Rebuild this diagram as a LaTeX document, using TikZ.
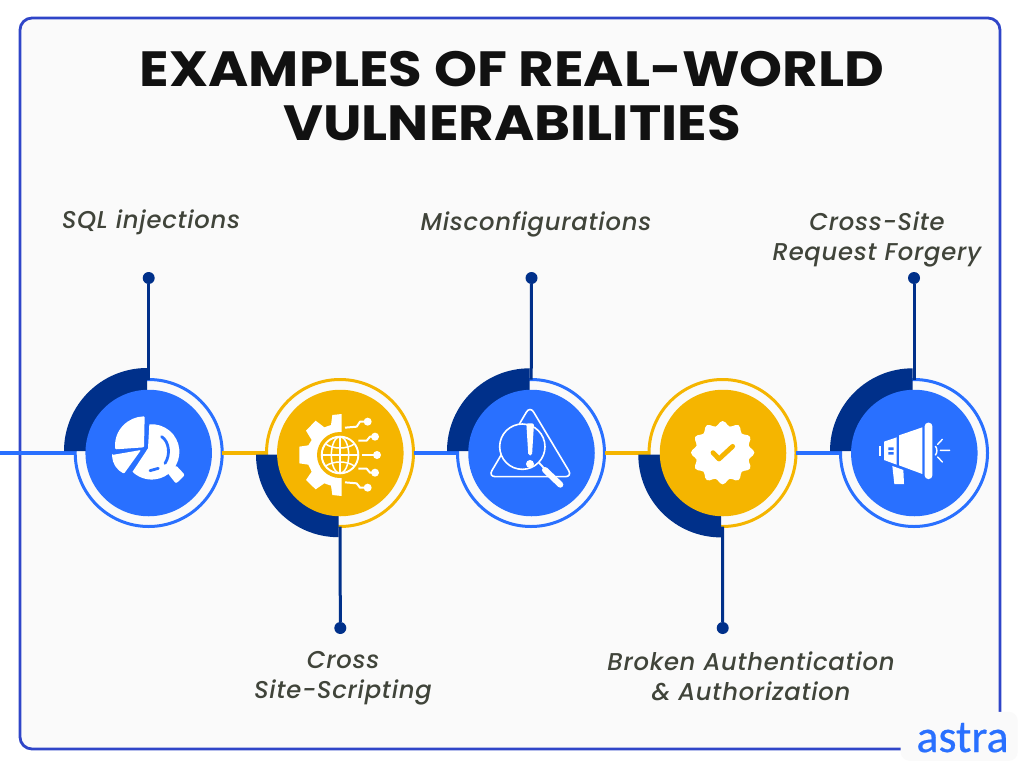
\documentclass[tikz,border=0pt]{standalone}
\usepackage{fontspec}
\setmainfont{Poppins}
\newfontfamily\titlefont[FakeStretch=1.105]{Poppins}
\newfontfamily\labelfont[LetterSpace=3,ItalicFont={Poppins Medium Italic}]{Poppins}
\newfontfamily\logofont[FakeBold=0.6]{Carlito}
\definecolor{skyb}{HTML}{2970FF}
\definecolor{navyb}{HTML}{00308A}
\definecolor{gold}{HTML}{F5B500}
\definecolor{paper}{HTML}{FAFAFA}
\definecolor{framec}{HTML}{2F45C8}
\definecolor{labelc}{HTML}{40443A}
\definecolor{titlec}{HTML}{111111}
\tikzset{
  ringb/.style={circle,draw=skyb,line width=3pt,fill=paper,minimum size=147pt,inner sep=0pt,outer sep=0pt},
  ringy/.style={circle,draw=gold,line width=3pt,fill=paper,minimum size=147pt,inner sep=0pt,outer sep=0pt},
  discb/.style={circle,fill=skyb,minimum size=126.5pt,inner sep=0pt},
  discy/.style={circle,fill=gold,minimum size=126.5pt,inner sep=0pt},
  pin/.style={circle,fill=navyb,minimum size=12pt,inner sep=0pt},
  linkb/.style={draw=skyb,line width=3.2pt},
  linky/.style={draw=gold,line width=3.2pt},
  linkn/.style={draw=navyb,line width=3pt},
  heading/.style={font=\titlefont\bfseries\fontsize{49.5}{60}\selectfont,text=titlec,anchor=base},
  caption/.style={font=\labelfont\itshape\fontsize{24.3}{30}\selectfont,text=labelc,align=center},
  iconline/.style={draw=white,line width=1.4pt,line cap=round,line join=round},
}
\begin{document}
\begin{tikzpicture}[x=1pt,y=-1pt]
\useasboundingbox (0,0) rectangle (1024,768);
\fill[white] (0,0) rectangle (1024,768);
\draw[framec,line width=2.8pt,fill=paper,rounded corners=12pt] (20,18) rectangle (1000,749);
\node[draw=none,fill=paper,rounded corners=9pt,minimum width=117pt,minimum height=49pt,inner sep=0pt] (badge) at (959.2,736.3) {};
\node[font=\logofont\fontsize{46}{46}\selectfont,text=skyb,anchor=base] (logo) at (962.5,752) {astra};

\node[heading] (t1) at (512,86) {EXAMPLES OF REAL-WORLD};
\node[heading] (t2) at (512,140) {VULNERABILITIES};

% rings
\coordinate (start) at (0,453);
\node[ringb] (r1) at (148.7,453) {};
\node[ringy] (r2) at (340,453) {};
\node[ringb] (r3) at (531,453) {};
\node[ringy] (r4) at (722.5,453) {};
\node[ringb] (r5) at (914,453) {};
\node[pin] (p1) at (148.7,278) {};
\node[pin] (p2) at (340.3,628) {};
\node[pin] (p3) at (531.5,278) {};
\node[pin] (p4) at (722.7,628) {};
\node[pin] (p5) at (914,278) {};
\draw[linkb] (start) -- (r1);
\draw[linky] (r1) -- (r2);
\draw[linkb] (r2) -- (r3);
\draw[linky] (r3) -- (r4);
\draw[linkb] (r4) -- (r5);
\draw[linkn] (p1) -- (r1);
\draw[linkn] (p2) -- (r2);
\draw[linkn] (p3) -- (r3);
\draw[linkn] (p4) -- (r4);
\draw[linkn] (p5) -- (r5);
% navy quadrants
\fill[navyb] (147,451) -- (64,451) arc[start angle=180,end angle=90,radius=83pt] -- cycle;
\fill[navyb] (338.5,454.7) -- (256,454.7) arc[start angle=180,end angle=270,radius=82.5pt] -- cycle;
\fill[navyb] (529.7,451) -- (447,451) arc[start angle=180,end angle=90,radius=82.7pt] -- cycle;
\fill[navyb] (721,454.7) -- (638.3,454.7) arc[start angle=180,end angle=270,radius=82.7pt] -- cycle;
\fill[navyb] (912.7,451) -- (830,451) arc[start angle=180,end angle=90,radius=82.7pt] -- cycle;
% discs
\node[discb] (d1) at (148.7,453) {};
\node[discy] (d2) at (340.3,453) {};
\node[discb] (d3) at (531.5,453) {};
\node[discy] (d4) at (723,453) {};
\node[discb] (d5) at (914.3,453) {};

% icon 1
\begin{scope}[shift={(50,360)},scale=1/3]
\fill[white,rounded corners=1pt] (284,169) .. controls (235,170) and (190,210) .. (196,268) -- (282,262) -- cycle;
\fill[white,rounded corners=1pt] (186,285) -- (273,270) -- (222,341) .. controls (200,330) and (187,310) .. (186,285) -- cycle;
\fill[white] (298,193) arc[start angle=95,end angle=-134,radius=83pt] -- (294,265) -- cycle;
\fill[white,rounded corners=2pt] (352,338) -- (378,371) -- (405,345) -- (378,316) -- cycle;
\draw[skyb,line width=2.8pt,line cap=round] (335,230) .. controls (358,245) and (362,285) .. (345,310);
\draw[skyb,line width=2.8pt,line cap=round] (300,332) -- (325,325);
\end{scope}

% icon 2
\begin{scope}[shift={(245,370)},scale=1/3]
\fill[white] (290,132) -- (262,135) -- (258,165) -- (238,172) -- (212,152) -- (183,182) -- (200,210) -- (190,226) -- (163,230) -- (163,280) -- (190,284) -- (200,305) -- (183,330) -- (212,358) -- (238,340) -- (258,347) -- (262,375) -- (290,378) -- cycle;
\fill[gold] (285,255) circle[radius=69];
\draw[white,line width=1.9pt] (285,255) circle[radius=55];
\draw[white,line width=1.5pt] (285,255) ellipse[x radius=26,y radius=55];
\draw[white,line width=1.5pt] (285,200) -- (285,310) (230,255) -- (340,255);
\draw[white,line width=1.5pt] (242,222) .. controls (265,238) and (305,238) .. (328,222);
\draw[white,line width=1.5pt] (242,288) .. controls (265,272) and (305,272) .. (328,288);
\begin{scope}[line join=round]
\draw[white,line width=2pt] (300,173) -- (335,170) -- (345,155) -- (368,155);
\draw[white,line width=2pt] (340,212) -- (365,212) -- (375,200) -- (390,200);
\draw[white,line width=2pt] (352,255) -- (396,255);
\draw[white,line width=2pt] (340,296) -- (365,296) -- (375,308) -- (390,308);
\draw[white,line width=2pt] (300,337) -- (335,340) -- (345,353) -- (368,353);
\end{scope}
\fill[white] (368,155) circle[radius=12] (390,200) circle[radius=12] (396,255) circle[radius=12] (390,308) circle[radius=12] (368,353) circle[radius=12];
\end{scope}

% icon 3
\begin{scope}[shift={(435,360)},scale=1/3]
\draw[white,line width=1.6pt,rounded corners=7pt] (285,138) -- (412,350) -- (160,350) -- cycle;
\fill[skyb] (262,260) circle[radius=68];
\draw[white,line width=1.6pt] (262,260) circle[radius=68];
\fill[white,rounded corners=2pt] (274,190) -- (297,190) -- (291,287) -- (280,287) -- cycle;
\fill[white] (285,312) circle[radius=12];
\draw[white,line width=1.8pt] (312,308) -- (332,330);
\draw[white,line width=6pt,line cap=round] (330,330) -- (376,374);
\end{scope}

% icon 4
\begin{scope}[shift={(625,370)},scale=1/3]
\fill[white] plot[smooth cycle,samples=72,domain=0:355] ({293+(88+7*cos(12*\x))*cos(\x)},{248+(88+7*cos(12*\x))*sin(\x)});
\draw[gold,line width=4.8pt,line cap=round,line join=round] (264,248) -- (282,267) -- (323,229);
\end{scope}

% icon 5
\begin{scope}[shift={(815,360)},scale=1/3]
\fill[white] (191,258) rectangle (197,288);
\fill[white] (207,245) -- (245,232) -- (245,314) -- (207,300) -- cycle;
\fill[skyb] (220,262) rectangle (236,270) (220,276) rectangle (236,284);
\fill[white] (252,226) -- (322,202) -- (322,342) -- (252,316) -- cycle;
\fill[white,rounded corners=3.5pt] (329,188) rectangle (352,357);
\fill[white] (232,318) -- (265,330) -- (267,372) -- (238,372) -- cycle;
\draw[white,line width=1.5pt] (361,258) .. controls (367,266) and (367,278) .. (361,286);
\draw[iconline] (368,253) -- (382,238) (376,271) -- (404,271) (368,291) -- (382,306);
\end{scope}

% labels
\node[caption] (l1) at (151,222) {SQL injections};
\node[caption] (l2) at (343,678) {Cross\\Site-Scripting};
\node[caption] (l3) at (536,224) {Misconfigurations};
\node[caption] (l4) at (751,676.5) {Broken Authentication\\\& Authorization};
\node[caption] (l5) at (877,239) {Cross-Site\\Request Forgery};
\end{tikzpicture}
\end{document}
